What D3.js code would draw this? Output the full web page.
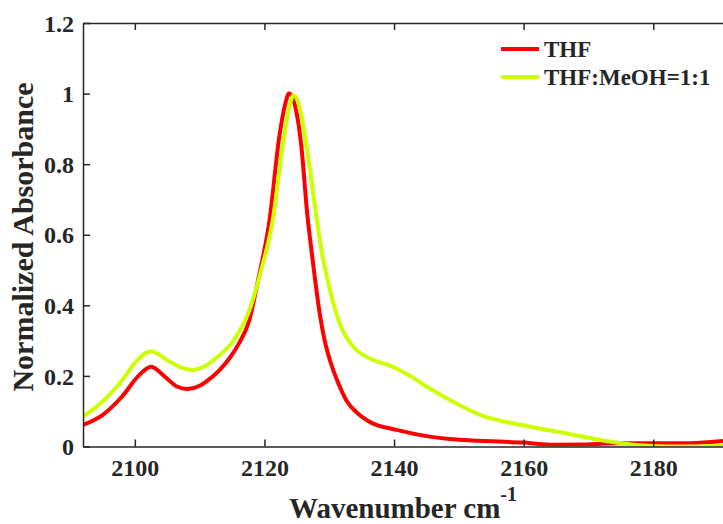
<!DOCTYPE html>
<html>
<head>
<meta charset="utf-8">
<script src="https://cdn.jsdelivr.net/npm/d3@7"></script>
<style>
  body { margin: 0; background: #fff; }
  svg { display: block; }
  text { font-family: "Liberation Serif", "Times New Roman", serif; font-weight: bold; fill: #262626; }
</style>
</head>
<body>
<div id="chart"></div>
<script>
// THF spectrum (wavenumber, normalized absorbance)
var thfWave = [2092, 2095, 2098, 2100.7, 2102.5, 2104.8, 2106.5, 2108.1, 2110, 2111, 2113, 2114.8, 2116,
  2117.7, 2119, 2120.8, 2122.3, 2123.2, 2123.8, 2124.5, 2125.7, 2126.6, 2127.5, 2128.5, 2129.3, 2130.1,
  2131.5, 2132.6, 2134.5, 2136.2, 2140.4, 2145.5, 2148.6, 2153.2, 2159.9, 2164, 2170, 2174.3, 2184.6, 2191];
var thfAbs = [0.061, 0.089, 0.141, 0.203, 0.226, 0.195, 0.170, 0.163, 0.172, 0.184, 0.215, 0.255, 0.290,
  0.36, 0.47, 0.643, 0.879, 0.97, 1.0, 0.98, 0.85, 0.66, 0.52, 0.38, 0.30, 0.245,
  0.175, 0.132, 0.092, 0.070, 0.047, 0.028, 0.021, 0.016, 0.011, 0.005, 0.006, 0.009, 0.009, 0.016];

// THF:MeOH=1:1 spectrum
var mixWave = [2092, 2095, 2098.1, 2100.2, 2102.5, 2105.3, 2107, 2108.9, 2110.5, 2112.5, 2115.1, 2117.7,
  2119.5, 2121.3, 2122.8, 2123.8, 2124.5, 2125.3, 2126.5, 2127.8, 2128.8, 2130.1, 2131.6, 2133.7,
  2136.2, 2139.8, 2142.5, 2145, 2148.6, 2153.7, 2159.9, 2166.6, 2173.3, 2177.4, 2182, 2186, 2191];
var mixAbs = [0.085, 0.127, 0.189, 0.241, 0.270, 0.241, 0.225, 0.217, 0.225, 0.250, 0.297, 0.387,
  0.50, 0.643, 0.85, 0.96, 0.995, 0.97, 0.85, 0.68, 0.557, 0.444, 0.349, 0.283,
  0.250, 0.226, 0.20, 0.170, 0.132, 0.087, 0.060, 0.037, 0.014, 0.004, 0.0, 0.0, 0.002];

var xTicks = [2100, 2120, 2140, 2160, 2180];
var yTicks = [0, 0.2, 0.4, 0.6, 0.8, 1, 1.2];
var seriesNames = ["THF", "THF:MeOH=1:1"];
var seriesColors = ["#ff0000", "#ccff00"];

(function () {
  var width = 723, height = 524;
  // plot box; its right edge falls just outside the frame
  var box = { left: 83, top: 23, bottom: 446.5, right: 731 };
  var axisColor = "#262626";
  var serif = '"Liberation Serif", "Times New Roman", serif';

  var x = d3.scaleLinear().domain([2092, 2192]).range([box.left, box.right]);
  var y = d3.scaleLinear().domain([0, 1.2]).range([box.bottom, box.top]);

  var svg = d3.select("#chart").append("svg")
    .attr("width", width)
    .attr("height", height);

  svg.append("defs").append("clipPath").attr("id", "plotClip")
    .append("rect")
    .attr("x", box.left).attr("y", box.top)
    .attr("width", box.right - box.left).attr("height", box.bottom - box.top);

  // curves
  var series = [
    { wave: thfWave, abs: thfAbs },
    { wave: mixWave, abs: mixAbs }
  ];

  var line = d3.line()
    .x(function (d) { return x(d[0]); })
    .y(function (d) { return y(d[1]); })
    .curve(d3.curveMonotoneX);

  var plot = svg.append("g").attr("clip-path", "url(#plotClip)");
  series.forEach(function (s, i) {
    plot.append("path")
      .datum(d3.zip(s.wave, s.abs))
      .attr("d", line)
      .attr("fill", "none")
      .attr("stroke", seriesColors[i])
      .attr("stroke-width", 4)
      .attr("stroke-linejoin", "round");
  });

  // axes: ticks point inward, mirrored on top
  var xBottom = svg.append("g")
    .attr("transform", "translate(0," + box.bottom + ")")
    .call(d3.axisBottom(x).tickValues(xTicks).tickSizeInner(-7).tickSizeOuter(0).tickPadding(12)
      .tickFormat(d3.format("d")));
  var xTop = svg.append("g")
    .attr("transform", "translate(0," + box.top + ")")
    .call(d3.axisTop(x).tickValues(xTicks).tickSizeInner(-7).tickSizeOuter(0).tickFormat(""));
  var yLeft = svg.append("g")
    .attr("transform", "translate(" + box.left + ",0)")
    .call(d3.axisLeft(y).tickValues(yTicks).tickSizeInner(-7).tickSizeOuter(0).tickPadding(9)
      .tickFormat(d3.format("~g")));

  [xBottom, xTop, yLeft].forEach(function (g) {
    g.attr("font-family", serif).attr("font-size", 24).attr("font-weight", "bold");
    g.select(".domain").attr("stroke", axisColor).attr("stroke-width", 1.5);
    g.selectAll(".tick line").attr("stroke", axisColor).attr("stroke-width", 1.5);
    g.selectAll(".tick text").attr("fill", axisColor);
  });
  xBottom.selectAll(".tick text").attr("dy", "0.71em");
  yLeft.selectAll(".tick text").attr("dy", "0.34em");

  // axis titles
  svg.append("text")
    .attr("transform", "translate(33,237) rotate(-90)")
    .attr("text-anchor", "middle")
    .attr("font-size", 30)
    .text("Normalized Absorbance");

  var xTitle = svg.append("text")
    .attr("x", 289)
    .attr("y", 518)
    .attr("font-size", 29);
  xTitle.append("tspan").text("Wavenumber cm");
  xTitle.append("tspan").attr("dy", -17).attr("font-size", 20).text("-1");

  // legend
  var legend = svg.append("g").attr("transform", "translate(501,49)");
  seriesNames.forEach(function (name, i) {
    var row = legend.append("g").attr("transform", "translate(0," + i * 28 + ")");
    row.append("line")
      .attr("x1", 0).attr("x2", 38)
      .attr("stroke", seriesColors[i])
      .attr("stroke-width", 4);
    row.append("text")
      .attr("x", 43)
      .attr("y", 8)
      .attr("font-size", 23)
      .text(name);
  });
})();
</script>
</body>
</html>
